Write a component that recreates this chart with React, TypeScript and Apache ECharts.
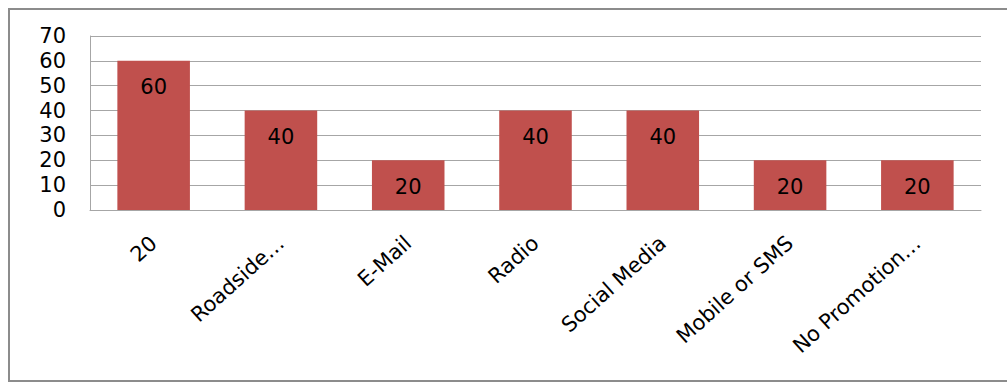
import React, { useEffect, useRef } from "react";
import * as echarts from "echarts";

const categories = ["20", "Roadside…", "E-Mail", "Radio", "Social Media", "Mobile or SMS", "No Promotion…"];
const values = [60, 40, 20, 40, 40, 20, 20];

export default function App() {
  const ref = useRef<HTMLDivElement>(null);
  useEffect(() => {
    if (!ref.current) return;
    const chart = echarts.init(ref.current, null, { renderer: "svg" });
    const font = "DejaVu Sans";
    chart.setOption({
      animation: false,
      backgroundColor: "#ffffff",
      textStyle: { fontFamily: font },
      graphic: [
        {
          type: "rect",
          shape: { x: 9, y: 9, width: 1010, height: 372 },
          style: { fill: "none", stroke: "#8c8c8c", lineWidth: 2 },
          silent: true,
        },
      ],
      grid: { left: 90, right: 26, top: 36, bottom: 172, containLabel: false },
      xAxis: {
        type: "category",
        data: categories,
        axisLine: { show: true, lineStyle: { color: "#a6a6a6", width: 1 } },
        axisTick: { show: false },
        axisLabel: {
          interval: 0,
          rotate: 42,
          margin: 30,
          color: "#000",
          fontFamily: font,
          fontSize: 21,
        },
      },
      yAxis: {
        type: "value",
        min: 0,
        max: 70,
        interval: 10,
        axisLine: { show: true, lineStyle: { color: "#a6a6a6", width: 1 } },
        axisTick: { show: false },
        splitLine: { show: true, lineStyle: { color: "#a6a6a6", width: 1 } },
        axisLabel: { margin: 24, color: "#000", fontFamily: font, fontSize: 21 },
      },
      series: [
        {
          type: "bar",
          data: values,
          barWidth: "57%",
          itemStyle: { color: "#C0504D" },
          label: {
            show: true,
            position: "insideTop",
            distance: 16,
            color: "#000",
            fontFamily: font,
            fontSize: 21,
          },
        },
      ],
    });
    return () => chart.dispose();
  }, []);
  return (
    <div
      ref={ref}
      style={{ position: "absolute", left: 0, top: 0, width: 1007, height: 382 }}
    />
  );
}
